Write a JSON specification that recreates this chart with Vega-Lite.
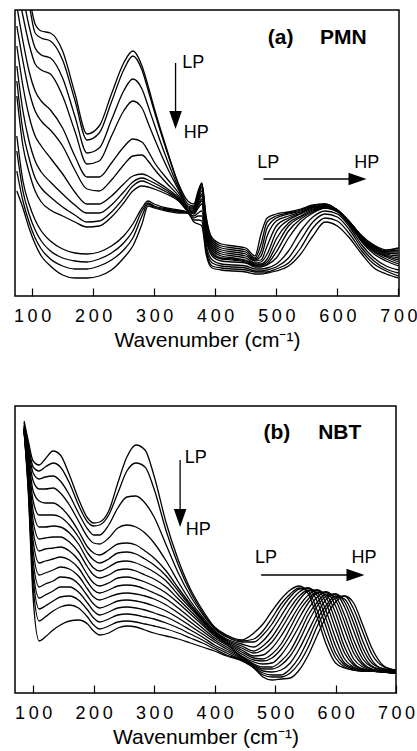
{
  "$schema": "https://vega.github.io/schema/vega-lite/v6.json",
  "background": "white",
  "padding": {"left": 12, "top": 9, "right": 0, "bottom": 0},
  "spacing": 54,
  "config": {
    "view": {"stroke": "black", "strokeWidth": 1.5},
    "font": "Liberation Sans",
    "axisX": {
      "tickSize": -8, "tickColor": "black", "tickWidth": 1.2,
      "domain": false, "grid": false,
      "labelFont": "Liberation Sans", "labelFontSize": 18, "labelColor": "black",
      "labelPadding": 19, "labelFlush": false, "labelOverlap": false,
      "titleFont": "Liberation Sans", "titleFontSize": 21, "titleFontWeight": "normal",
      "titleColor": "black", "titlePadding": 4
    }
  },
  "datasets": {
    "a": [
      {"x":75,"c1":360,"c2":350,"c3":330,"c4":310,"c5":290,"c6":270,"c7":250,"c8":230,"c9":215,"c10":200,"c11":160,"c12":145,"c13":125,"c14":105},
      {"x":85,"c1":330,"c2":320,"c3":300,"c4":280,"c5":255,"c6":235,"c7":210,"c8":185,"c9":165,"c10":150,"c11":115,"c12":105,"c13":95,"c14":88},
      {"x":95,"c1":300,"c2":292,"c3":270,"c4":252,"c5":225,"c6":205,"c7":180,"c8":155,"c9":138,"c10":124,"c11":92,"c12":82,"c13":74,"c14":68},
      {"x":105,"c1":272,"c2":263,"c3":248,"c4":232,"c5":205,"c6":185,"c7":160,"c8":135,"c9":118,"c10":105,"c11":76,"c12":66,"c13":58,"c14":52},
      {"x":115,"c1":265,"c2":258,"c3":241,"c4":226,"c5":195,"c6":175,"c7":150,"c8":124,"c9":108,"c10":94,"c11":65,"c12":55,"c13":47,"c14":40},
      {"x":130,"c1":263,"c2":255,"c3":238,"c4":222,"c5":186,"c6":166,"c7":138,"c8":114,"c9":99,"c10":86,"c11":55,"c12":45,"c13":37,"c14":30},
      {"x":150,"c1":245,"c2":236,"c3":218,"c4":200,"c5":168,"c6":150,"c7":122,"c8":102,"c9":89,"c10":80,"c11":47,"c12":38,"c13":30,"c14":21},
      {"x":170,"c1":203,"c2":196,"c3":180,"c4":165,"c5":140,"c6":126,"c7":104,"c8":91,"c9":81,"c10":74,"c11":43,"c12":35,"c13":27,"c14":18},
      {"x":190,"c1":162,"c2":156,"c3":143,"c4":132,"c5":119,"c6":107,"c7":92,"c8":83,"c9":74,"c10":69,"c11":42,"c12":34,"c13":27,"c14":18},
      {"x":210,"c1":170,"c2":163,"c3":148,"c4":135,"c5":119,"c6":105,"c7":92,"c8":83,"c9":75,"c10":70,"c11":44,"c12":37,"c13":30,"c14":20},
      {"x":230,"c1":202,"c2":194,"c3":176,"c4":160,"c5":133,"c6":116,"c7":100,"c8":91,"c9":84,"c10":79,"c11":50,"c12":43,"c13":36,"c14":26},
      {"x":250,"c1":233,"c2":226,"c3":205,"c4":185,"c5":149,"c6":131,"c7":112,"c8":104,"c9":98,"c10":93,"c11":60,"c12":53,"c13":46,"c14":38},
      {"x":265,"c1":245,"c2":240,"c3":217,"c4":195,"c5":157,"c6":140,"c7":120,"c8":114,"c9":110,"c10":105,"c11":72,"c12":65,"c13":58,"c14":50},
      {"x":280,"c1":230,"c2":226,"c3":207,"c4":188,"c5":154,"c6":141,"c7":122,"c8":118,"c9":115,"c10":110,"c11":88,"c12":85,"c13":80,"c14":72},
      {"x":290,"c1":210,"c2":206,"c3":190,"c4":173,"c5":145,"c6":135,"c7":120,"c8":116,"c9":113,"c10":109,"c11":95,"c12":93,"c13":92,"c14":90},
      {"x":300,"c1":188,"c2":185,"c3":172,"c4":158,"c5":134,"c6":127,"c7":116,"c8":113,"c9":110,"c10":107,"c11":92,"c12":90,"c13":89,"c14":88},
      {"x":320,"c1":148,"c2":146,"c3":138,"c4":130,"c5":118,"c6":113,"c7":108,"c8":106,"c9":104,"c10":102,"c11":88,"c12":87,"c13":86,"c14":85},
      {"x":340,"c1":112,"c2":111,"c3":108,"c4":106,"c5":103,"c6":100,"c7":98,"c8":97,"c9":96,"c10":95,"c11":86,"c12":85,"c13":84,"c14":83},
      {"x":355,"c1":95,"c2":92,"c3":90,"c4":89,"c5":88,"c6":87,"c7":86,"c8":86,"c9":85,"c10":85,"c11":84,"c12":84,"c13":83,"c14":83},
      {"x":365,"c1":92,"c2":90,"c3":89,"c4":88,"c5":87,"c6":86,"c7":85,"c8":84,"c9":83,"c10":82,"c11":80,"c12":78,"c13":76,"c14":74},
      {"x":372,"c1":105,"c2":103,"c3":101,"c4":100,"c5":98,"c6":96,"c7":94,"c8":92,"c9":90,"c10":88,"c11":83,"c12":80,"c13":76,"c14":72},
      {"x":378,"c1":113,"c2":112,"c3":110,"c4":108,"c5":105,"c6":102,"c7":100,"c8":97,"c9":95,"c10":92,"c11":85,"c12":80,"c13":75,"c14":70},
      {"x":385,"c1":80,"c2":78,"c3":75,"c4":72,"c5":70,"c6":68,"c7":65,"c8":62,"c9":60,"c10":57,"c11":52,"c12":48,"c13":45,"c14":42},
      {"x":395,"c1":58,"c2":56,"c3":54,"c4":52,"c5":50,"c6":48,"c7":46,"c8":44,"c9":42,"c10":40,"c11":36,"c12":33,"c13":30,"c14":28},
      {"x":410,"c1":52,"c2":50,"c3":48,"c4":46,"c5":44,"c6":42,"c7":40,"c8":38,"c9":37,"c10":35,"c11":32,"c12":30,"c13":28,"c14":26},
      {"x":430,"c1":50,"c2":48,"c3":46,"c4":44,"c5":42,"c6":40,"c7":38,"c8":37,"c9":36,"c10":34,"c11":31,"c12":29,"c13":27,"c14":25},
      {"x":450,"c1":48,"c2":46,"c3":44,"c4":42,"c5":40,"c6":38,"c7":36,"c8":35,"c9":34,"c10":33,"c11":30,"c12":28,"c13":26,"c14":24},
      {"x":465,"c1":40,"c2":38,"c3":37,"c4":36,"c5":35,"c6":33,"c7":32,"c8":31,"c9":30,"c10":29,"c11":27,"c12":25,"c13":24,"c14":22},
      {"x":475,"c1":62,"c2":52,"c3":45,"c4":40,"c5":36,"c6":34,"c7":32,"c8":31,"c9":30,"c10":29,"c11":27,"c12":25,"c13":24,"c14":22},
      {"x":485,"c1":78,"c2":74,"c3":68,"c4":60,"c5":50,"c6":42,"c7":37,"c8":34,"c9":32,"c10":31,"c11":28,"c12":26,"c13":24,"c14":23},
      {"x":500,"c1":82,"c2":80,"c3":78,"c4":75,"c5":70,"c6":64,"c7":57,"c8":50,"c9":44,"c10":38,"c11":32,"c12":29,"c13":27,"c14":25},
      {"x":520,"c1":84,"c2":83,"c3":82,"c4":80,"c5":78,"c6":76,"c7":73,"c8":70,"c9":65,"c10":58,"c11":45,"c12":38,"c13":33,"c14":30},
      {"x":540,"c1":87,"c2":86,"c3":85,"c4":84,"c5":83,"c6":82,"c7":80,"c8":79,"c9":77,"c10":74,"c11":65,"c12":56,"c13":48,"c14":42},
      {"x":560,"c1":91,"c2":90,"c3":89,"c4":88,"c5":88,"c6":87,"c7":86,"c8":85,"c9":84,"c10":83,"c11":79,"c12":74,"c13":68,"c14":60},
      {"x":580,"c1":92,"c2":92,"c3":91,"c4":91,"c5":90,"c6":90,"c7":89,"c8":89,"c9":88,"c10":88,"c11":85,"c12":82,"c13":78,"c14":74},
      {"x":600,"c1":86,"c2":86,"c3":86,"c4":86,"c5":86,"c6":86,"c7":85,"c8":85,"c9":85,"c10":84,"c11":82,"c12":79,"c13":75,"c14":70},
      {"x":620,"c1":74,"c2":74,"c3":74,"c4":74,"c5":74,"c6":73,"c7":73,"c8":72,"c9":72,"c10":71,"c11":69,"c12":66,"c13":62,"c14":58},
      {"x":640,"c1":60,"c2":60,"c3":60,"c4":60,"c5":59,"c6":58,"c7":57,"c8":56,"c9":55,"c10":54,"c11":51,"c12":48,"c13":45,"c14":42},
      {"x":660,"c1":51,"c2":50,"c3":50,"c4":49,"c5":48,"c6":47,"c7":46,"c8":45,"c9":44,"c10":42,"c11":38,"c12":35,"c13":32,"c14":28},
      {"x":680,"c1":46,"c2":45,"c3":44,"c4":43,"c5":42,"c6":41,"c7":40,"c8":39,"c9":37,"c10":35,"c11":30,"c12":27,"c13":25,"c14":22},
      {"x":700,"c1":48,"c2":46,"c3":44,"c4":42,"c5":40,"c6":38,"c7":36,"c8":34,"c9":32,"c10":30,"c11":26,"c12":23,"c13":20,"c14":18}
    ],
    "b": [
      {"x":85,"c1":272,"c2":270,"c3":268,"c4":267,"c5":266,"c6":265,"c7":265,"c8":264,"c9":264,"c10":264,"c11":263,"c12":263,"c13":263,"c14":262,"c15":262,"c16":262},
      {"x":92,"c1":252,"c2":248,"c3":244,"c4":240,"c5":236,"c6":232,"c7":228,"c8":225,"c9":222,"c10":219,"c11":216,"c12":213,"c13":210,"c14":207,"c15":204,"c16":200},
      {"x":100,"c1":232,"c2":226,"c3":220,"c4":212,"c5":202,"c6":192,"c7":182,"c8":172,"c9":162,"c10":152,"c11":142,"c12":132,"c13":122,"c14":115,"c15":106,"c16":95},
      {"x":110,"c1":228,"c2":222,"c3":214,"c4":204,"c5":192,"c6":178,"c7":166,"c8":154,"c9":142,"c10":130,"c11":118,"c12":106,"c13":95,"c14":84,"c15":72,"c16":52},
      {"x":120,"c1":234,"c2":226,"c3":216,"c4":204,"c5":190,"c6":178,"c7":166,"c8":155,"c9":144,"c10":132,"c11":120,"c12":109,"c13":98,"c14":87,"c15":76,"c16":56},
      {"x":133,"c1":242,"c2":230,"c3":217,"c4":205,"c5":190,"c6":178,"c7":167,"c8":156,"c9":145,"c10":134,"c11":123,"c12":112,"c13":102,"c14":92,"c15":82,"c16":63},
      {"x":145,"c1":238,"c2":226,"c3":212,"c4":200,"c5":186,"c6":176,"c7":166,"c8":156,"c9":146,"c10":136,"c11":126,"c12":116,"c13":106,"c14":96,"c15":86,"c16":68},
      {"x":160,"c1":218,"c2":210,"c3":198,"c4":188,"c5":176,"c6":168,"c7":160,"c8":151,"c9":142,"c10":133,"c11":124,"c12":115,"c13":106,"c14":97,"c15":88,"c16":72},
      {"x":175,"c1":194,"c2":188,"c3":180,"c4":172,"c5":162,"c6":156,"c7":149,"c8":141,"c9":133,"c10":125,"c11":117,"c12":109,"c13":101,"c14":93,"c15":85,"c16":73},
      {"x":190,"c1":175,"c2":171,"c3":164,"c4":156,"c5":146,"c6":140,"c7":133,"c8":126,"c9":118,"c10":111,"c11":104,"c12":97,"c13":90,"c14":83,"c15":76,"c16":69},
      {"x":200,"c1":170,"c2":167,"c3":158,"c4":150,"c5":140,"c6":133,"c7":125,"c8":118,"c9":110,"c10":103,"c11":96,"c12":89,"c13":82,"c14":75,"c15":68,"c16":62},
      {"x":210,"c1":171,"c2":168,"c3":158,"c4":149,"c5":138,"c6":130,"c7":122,"c8":115,"c9":107,"c10":100,"c11":93,"c12":85,"c13":78,"c14":71,"c15":64,"c16":58},
      {"x":225,"c1":182,"c2":178,"c3":168,"c4":155,"c5":143,"c6":134,"c7":126,"c8":118,"c9":110,"c10":103,"c11":96,"c12":88,"c13":81,"c14":74,"c15":67,"c16":60},
      {"x":240,"c1":210,"c2":200,"c3":185,"c4":165,"c5":149,"c6":140,"c7":131,"c8":123,"c9":115,"c10":107,"c11":99,"c12":92,"c13":85,"c14":78,"c15":71,"c16":65},
      {"x":255,"c1":236,"c2":222,"c3":196,"c4":168,"c5":150,"c6":141,"c7":132,"c8":124,"c9":116,"c10":108,"c11":100,"c12":93,"c13":86,"c14":79,"c15":72,"c16":67},
      {"x":270,"c1":248,"c2":230,"c3":197,"c4":166,"c5":148,"c6":139,"c7":130,"c8":122,"c9":114,"c10":107,"c11":99,"c12":92,"c13":85,"c14":78,"c15":71,"c16":66},
      {"x":285,"c1":243,"c2":226,"c3":190,"c4":160,"c5":142,"c6":134,"c7":126,"c8":118,"c9":111,"c10":104,"c11":97,"c12":90,"c13":83,"c14":76,"c15":69,"c16":63},
      {"x":300,"c1":217,"c2":204,"c3":176,"c4":150,"c5":135,"c6":128,"c7":121,"c8":114,"c9":107,"c10":100,"c11":94,"c12":87,"c13":80,"c14":74,"c15":67,"c16":60},
      {"x":320,"c1":170,"c2":162,"c3":148,"c4":132,"c5":122,"c6":117,"c7":112,"c8":106,"c9":100,"c10":94,"c11":88,"c12":82,"c13":76,"c14":70,"c15":64,"c16":57},
      {"x":340,"c1":133,"c2":128,"c3":120,"c4":111,"c5":105,"c6":102,"c7":98,"c8":94,"c9":90,"c10":85,"c11":80,"c12":75,"c13":70,"c14":65,"c15":60,"c16":54},
      {"x":360,"c1":104,"c2":101,"c3":97,"c4":92,"c5":89,"c6":87,"c7":85,"c8":82,"c9":79,"c10":75,"c11":71,"c12":67,"c13":63,"c14":59,"c15":55,"c16":50},
      {"x":380,"c1":83,"c2":81,"c3":79,"c4":76,"c5":74,"c6":73,"c7":72,"c8":70,"c9":68,"c10":65,"c11":62,"c12":59,"c13":56,"c14":53,"c15":50,"c16":46},
      {"x":400,"c1":66,"c2":65,"c3":64,"c4":62,"c5":61,"c6":60,"c7":59,"c8":58,"c9":57,"c10":55,"c11":53,"c12":51,"c13":48,"c14":46,"c15":44,"c16":42},
      {"x":420,"c1":58,"c2":57,"c3":56,"c4":54,"c5":53,"c6":52,"c7":51,"c8":50,"c9":49,"c10":48,"c11":46,"c12":44,"c13":42,"c14":40,"c15":38,"c16":37},
      {"x":445,"c1":53,"c2":52,"c3":51,"c4":49,"c5":47,"c6":45,"c7":43,"c8":41,"c9":39,"c10":37,"c11":36,"c12":35,"c13":34,"c14":33,"c15":33,"c16":32},
      {"x":465,"c1":60,"c2":54,"c3":51,"c4":46,"c5":42,"c6":40,"c7":37,"c8":35,"c9":33,"c10":31,"c11":29,"c12":28,"c13":27,"c14":26,"c15":25,"c16":25},
      {"x":480,"c1":69,"c2":62,"c3":58,"c4":52,"c5":47,"c6":43,"c7":38,"c8":34,"c9":32,"c10":29,"c11":26,"c12":24,"c13":22,"c14":20,"c15":18,"c16":16},
      {"x":495,"c1":82,"c2":75,"c3":69,"c4":63,"c5":56,"c6":51,"c7":45,"c8":39,"c9":35,"c10":30,"c11":26,"c12":24,"c13":21,"c14":18,"c15":16,"c16":13},
      {"x":510,"c1":94,"c2":89,"c3":84,"c4":77,"c5":70,"c6":64,"c7":57,"c8":49,"c9":44,"c10":38,"c11":32,"c12":28,"c13":23,"c14":18,"c15":16,"c16":14},
      {"x":525,"c1":103,"c2":99,"c3":96,"c4":91,"c5":85,"c6":79,"c7":72,"c8":65,"c9":58,"c10":51,"c11":42,"c12":37,"c13":30,"c14":24,"c15":20,"c16":15},
      {"x":540,"c1":107,"c2":105,"c3":104,"c4":101,"c5":97,"c6":93,"c7":87,"c8":82,"c9":75,"c10":67,"c11":59,"c12":52,"c13":44,"c14":36,"c15":30,"c16":23},
      {"x":555,"c1":99,"c2":102,"c3":105,"c4":105,"c5":103,"c6":102,"c7":98,"c8":94,"c9":90,"c10":84,"c11":78,"c12":71,"c13":62,"c14":54,"c15":46,"c16":38},
      {"x":570,"c1":75,"c2":82,"c3":91,"c4":97,"c5":100,"c6":103,"c7":103,"c8":101,"c9":100,"c10":96,"c11":91,"c12":87,"c13":80,"c14":74,"c15":67,"c16":58},
      {"x":585,"c1":48,"c2":56,"c3":65,"c4":73,"c5":81,"c6":89,"c7":95,"c8":98,"c9":101,"c10":101,"c11":99,"c12":97,"c13":94,"c14":88,"c15":84,"c16":77},
      {"x":600,"c1":30,"c2":35,"c3":40,"c4":47,"c5":55,"c6":64,"c7":72,"c8":80,"c9":87,"c10":93,"c11":96,"c12":99,"c13":99,"c14":97,"c15":95,"c16":91},
      {"x":615,"c1":25,"c2":26,"c3":28,"c4":30,"c5":34,"c6":40,"c7":46,"c8":54,"c9":63,"c10":71,"c11":78,"c12":86,"c13":91,"c14":94,"c15":97,"c16":97},
      {"x":630,"c1":23,"c2":23,"c3":24,"c4":25,"c5":26,"c6":28,"c7":30,"c8":34,"c9":40,"c10":46,"c11":53,"c12":62,"c13":70,"c14":77,"c15":84,"c16":90},
      {"x":645,"c1":22,"c2":22,"c3":22,"c4":23,"c5":23,"c6":24,"c7":24,"c8":26,"c9":28,"c10":30,"c11":34,"c12":39,"c13":45,"c14":52,"c15":61,"c16":68},
      {"x":660,"c1":22,"c2":22,"c3":22,"c4":22,"c5":22,"c6":22,"c7":23,"c8":23,"c9":24,"c10":24,"c11":26,"c12":27,"c13":30,"c14":33,"c15":39,"c16":45},
      {"x":680,"c1":21,"c2":21,"c3":21,"c4":21,"c5":21,"c6":21,"c7":21,"c8":22,"c9":22,"c10":22,"c11":23,"c12":23,"c13":24,"c14":24,"c15":26,"c16":27},
      {"x":700,"c1":20,"c2":20,"c3":20,"c4":20,"c5":20,"c6":20,"c7":20,"c8":20,"c9":20,"c10":21,"c11":21,"c12":22,"c13":22,"c14":23,"c15":23,"c16":23}
    ]
  },
  "vconcat": [
    {
      "width": 384,
      "height": 286,
      "encoding": {
        "x": {"field": "x", "type": "quantitative", "scale": {"domain": [72, 701], "nice": false, "zero": false}, "axis": {"title": "Wavenumber (cm⁻¹)", "values": [100, 200, 300, 400, 500, 600, 700], "labelExpr": "join(split(datum.label, ''), '\u2009')"}},
        "y": {"field": "y", "type": "quantitative", "scale": {"domain": [0, 286], "nice": false, "zero": false}, "axis": null}
      },
      "layer": [
        {
          "data": {"name": "a"},
          "transform": [{"fold": ["c1","c2","c3","c4","c5","c6","c7","c8","c9","c10","c11","c12","c13","c14"], "as": ["curve", "y"]}],
          "mark": {"type": "line", "color": "black", "strokeWidth": 1.3, "interpolate": "monotone", "clip": true},
          "encoding": {"detail": {"field": "curve", "type": "nominal"}}
        },
        {
          "data": {"values": [{"x": 335, "y": 233, "x2": 335, "y2": 183}, {"x": 479, "y": 117, "x2": 626, "y2": 117}]},
          "mark": {"type": "rule", "color": "black", "strokeWidth": 1.3},
          "encoding": {"x2": {"field": "x2"}, "y2": {"field": "y2"}}
        },
        {
          "data": {"values": [{"x": 335, "y": 176}]},
          "mark": {"type": "point", "shape": "M-0.7,-1L0.7,-1L0,1Z", "filled": true, "color": "black", "opacity": 1, "size": 324, "strokeWidth": 0},
          "encoding": {}
        },
        {
          "data": {"values": [{"x": 633, "y": 117}]},
          "mark": {"type": "point", "shape": "M-1,-0.7L1,0L-1,0.7Z", "filled": true, "color": "black", "opacity": 1, "size": 324, "strokeWidth": 0},
          "encoding": {}
        },
        {
          "data": {"values": [{"x": 364, "y": 233, "t": "LP"}, {"x": 369, "y": 163, "t": "HP"}, {"x": 487, "y": 133, "t": "LP"}, {"x": 648, "y": 133, "t": "HP"}]},
          "mark": {"type": "text", "font": "Liberation Sans", "fontSize": 18, "color": "black", "baseline": "middle", "align": "center"},
          "encoding": {"text": {"field": "t"}}
        },
        {
          "data": {"values": [{"x": 507, "y": 258, "t": "(a)"}, {"x": 610, "y": 258, "t": "PMN"}]},
          "mark": {"type": "text", "font": "Liberation Sans", "fontSize": 21, "fontWeight": "bold", "color": "black", "baseline": "middle", "align": "center"},
          "encoding": {"text": {"field": "t"}}
        }
      ]
    },
    {
      "width": 381,
      "height": 287,
      "encoding": {
        "x": {"field": "x", "type": "quantitative", "scale": {"domain": [70, 700], "nice": false, "zero": false}, "axis": {"title": "Wavenumber (cm⁻¹)", "values": [100, 200, 300, 400, 500, 600, 700], "labelExpr": "join(split(datum.label, ''), '\u2009')"}},
        "y": {"field": "y", "type": "quantitative", "scale": {"domain": [0, 287], "nice": false, "zero": false}, "axis": null}
      },
      "layer": [
        {
          "data": {"name": "b"},
          "transform": [{"fold": ["c1","c2","c3","c4","c5","c6","c7","c8","c9","c10","c11","c12","c13","c14","c15","c16"], "as": ["curve", "y"]}],
          "mark": {"type": "line", "color": "black", "strokeWidth": 1.3, "interpolate": "monotone", "clip": true},
          "encoding": {"detail": {"field": "curve", "type": "nominal"}}
        },
        {
          "data": {"values": [{"x": 343, "y": 233, "x2": 343, "y2": 183}, {"x": 477, "y": 118, "x2": 626, "y2": 118}]},
          "mark": {"type": "rule", "color": "black", "strokeWidth": 1.3},
          "encoding": {"x2": {"field": "x2"}, "y2": {"field": "y2"}}
        },
        {
          "data": {"values": [{"x": 343, "y": 175}]},
          "mark": {"type": "point", "shape": "M-0.7,-1L0.7,-1L0,1Z", "filled": true, "color": "black", "opacity": 1, "size": 324, "strokeWidth": 0},
          "encoding": {}
        },
        {
          "data": {"values": [{"x": 633, "y": 118}]},
          "mark": {"type": "point", "shape": "M-1,-0.7L1,0L-1,0.7Z", "filled": true, "color": "black", "opacity": 1, "size": 324, "strokeWidth": 0},
          "encoding": {}
        },
        {
          "data": {"values": [{"x": 369, "y": 235, "t": "LP"}, {"x": 373, "y": 163, "t": "HP"}, {"x": 485, "y": 135, "t": "LP"}, {"x": 647, "y": 135, "t": "HP"}]},
          "mark": {"type": "text", "font": "Liberation Sans", "fontSize": 18, "color": "black", "baseline": "middle", "align": "center"},
          "encoding": {"text": {"field": "t"}}
        },
        {
          "data": {"values": [{"x": 503, "y": 260, "t": "(b)"}, {"x": 607, "y": 260, "t": "NBT"}]},
          "mark": {"type": "text", "font": "Liberation Sans", "fontSize": 21, "fontWeight": "bold", "color": "black", "baseline": "middle", "align": "center"},
          "encoding": {"text": {"field": "t"}}
        }
      ]
    }
  ]
}
